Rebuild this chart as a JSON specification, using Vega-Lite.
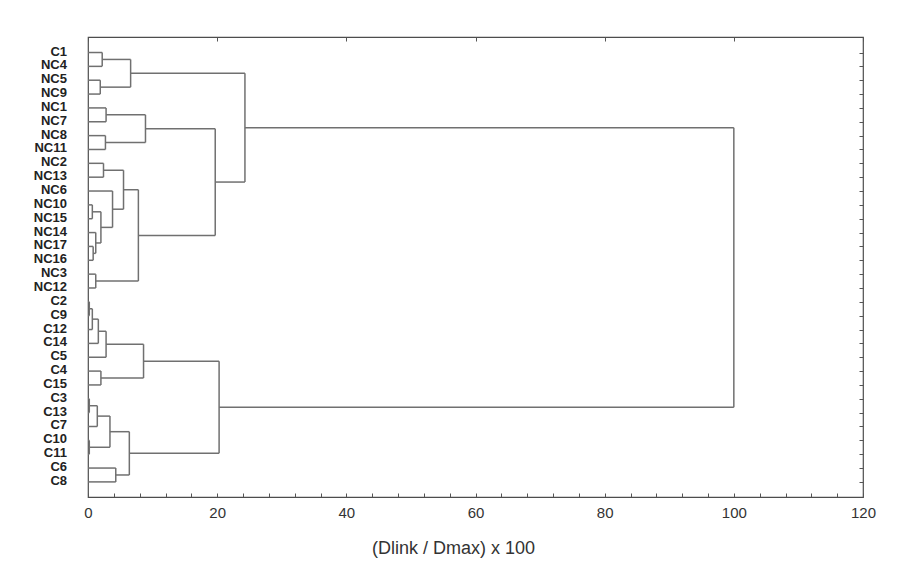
{
  "$schema": "https://vega.github.io/schema/vega-lite/v6.json",
  "width": 775,
  "height": 460,
  "autosize": {"type": "none"},
  "padding": {"left": 88, "top": 37, "right": 46, "bottom": 78},
  "background": "white",
  "config": {"view": {"stroke": "#4d4d4d", "strokeWidth": 1.2}, "axis": {"grid": false}},
  "layer": [
    {
      "data": {"values": [
        {"x1": 0, "x2": 2.2, "y1": 0, "y2": 0}, {"x1": 0, "x2": 2.2, "y1": 1, "y2": 1}, {"x1": 2.2, "x2": 2.2, "y1": 0, "y2": 1},
        {"x1": 0, "x2": 1.9, "y1": 2, "y2": 2}, {"x1": 0, "x2": 1.9, "y1": 3, "y2": 3}, {"x1": 1.9, "x2": 1.9, "y1": 2, "y2": 3},
        {"x1": 2.2, "x2": 6.6, "y1": 0.5, "y2": 0.5}, {"x1": 1.9, "x2": 6.6, "y1": 2.5, "y2": 2.5}, {"x1": 6.6, "x2": 6.6, "y1": 0.5, "y2": 2.5},
        {"x1": 0, "x2": 2.8, "y1": 4, "y2": 4}, {"x1": 0, "x2": 2.8, "y1": 5, "y2": 5}, {"x1": 2.8, "x2": 2.8, "y1": 4, "y2": 5},
        {"x1": 0, "x2": 2.7, "y1": 6, "y2": 6}, {"x1": 0, "x2": 2.7, "y1": 7, "y2": 7}, {"x1": 2.7, "x2": 2.7, "y1": 6, "y2": 7},
        {"x1": 2.8, "x2": 8.9, "y1": 4.5, "y2": 4.5}, {"x1": 2.7, "x2": 8.9, "y1": 6.5, "y2": 6.5}, {"x1": 8.9, "x2": 8.9, "y1": 4.5, "y2": 6.5},
        {"x1": 0, "x2": 2.4, "y1": 8, "y2": 8}, {"x1": 0, "x2": 2.4, "y1": 9, "y2": 9}, {"x1": 2.4, "x2": 2.4, "y1": 8, "y2": 9},
        {"x1": 0, "x2": 0.67, "y1": 11, "y2": 11}, {"x1": 0, "x2": 0.67, "y1": 12, "y2": 12}, {"x1": 0.67, "x2": 0.67, "y1": 11, "y2": 12},
        {"x1": 0, "x2": 0.8, "y1": 14, "y2": 14}, {"x1": 0, "x2": 0.8, "y1": 15, "y2": 15}, {"x1": 0.8, "x2": 0.8, "y1": 14, "y2": 15},
        {"x1": 0, "x2": 1.2, "y1": 13, "y2": 13}, {"x1": 0.8, "x2": 1.2, "y1": 14.5, "y2": 14.5}, {"x1": 1.2, "x2": 1.2, "y1": 13, "y2": 14.5},
        {"x1": 0.67, "x2": 2.0, "y1": 11.5, "y2": 11.5}, {"x1": 1.2, "x2": 2.0, "y1": 13.75, "y2": 13.75}, {"x1": 2.0, "x2": 2.0, "y1": 11.5, "y2": 13.75},
        {"x1": 0, "x2": 3.8, "y1": 10, "y2": 10}, {"x1": 2.0, "x2": 3.8, "y1": 12.625, "y2": 12.625}, {"x1": 3.8, "x2": 3.8, "y1": 10, "y2": 12.625},
        {"x1": 2.4, "x2": 5.5, "y1": 8.5, "y2": 8.5}, {"x1": 3.8, "x2": 5.5, "y1": 11.3125, "y2": 11.3125}, {"x1": 5.5, "x2": 5.5, "y1": 8.5, "y2": 11.3125},
        {"x1": 0, "x2": 1.2, "y1": 16, "y2": 16}, {"x1": 0, "x2": 1.2, "y1": 17, "y2": 17}, {"x1": 1.2, "x2": 1.2, "y1": 16, "y2": 17},
        {"x1": 5.5, "x2": 7.8, "y1": 9.906, "y2": 9.906}, {"x1": 1.2, "x2": 7.8, "y1": 16.5, "y2": 16.5}, {"x1": 7.8, "x2": 7.8, "y1": 9.906, "y2": 16.5},
        {"x1": 8.9, "x2": 19.7, "y1": 5.5, "y2": 5.5}, {"x1": 7.8, "x2": 19.7, "y1": 13.203, "y2": 13.203}, {"x1": 19.7, "x2": 19.7, "y1": 5.5, "y2": 13.203},
        {"x1": 6.6, "x2": 24.3, "y1": 1.5, "y2": 1.5}, {"x1": 19.7, "x2": 24.3, "y1": 9.352, "y2": 9.352}, {"x1": 24.3, "x2": 24.3, "y1": 1.5, "y2": 9.352},
        {"x1": 0, "x2": 0.2, "y1": 18, "y2": 18}, {"x1": 0, "x2": 0.2, "y1": 19, "y2": 19}, {"x1": 0.2, "x2": 0.2, "y1": 18, "y2": 19},
        {"x1": 0.2, "x2": 0.67, "y1": 18.5, "y2": 18.5}, {"x1": 0, "x2": 0.67, "y1": 20, "y2": 20}, {"x1": 0.67, "x2": 0.67, "y1": 18.5, "y2": 20},
        {"x1": 0.67, "x2": 1.6, "y1": 19.25, "y2": 19.25}, {"x1": 0, "x2": 1.6, "y1": 21, "y2": 21}, {"x1": 1.6, "x2": 1.6, "y1": 19.25, "y2": 21},
        {"x1": 1.6, "x2": 2.8, "y1": 20.125, "y2": 20.125}, {"x1": 0, "x2": 2.8, "y1": 22, "y2": 22}, {"x1": 2.8, "x2": 2.8, "y1": 20.125, "y2": 22},
        {"x1": 0, "x2": 2.0, "y1": 23, "y2": 23}, {"x1": 0, "x2": 2.0, "y1": 24, "y2": 24}, {"x1": 2.0, "x2": 2.0, "y1": 23, "y2": 24},
        {"x1": 2.8, "x2": 8.6, "y1": 21.063, "y2": 21.063}, {"x1": 2.0, "x2": 8.6, "y1": 23.5, "y2": 23.5}, {"x1": 8.6, "x2": 8.6, "y1": 21.063, "y2": 23.5},
        {"x1": 0, "x2": 0.2, "y1": 25, "y2": 25}, {"x1": 0, "x2": 0.2, "y1": 26, "y2": 26}, {"x1": 0.2, "x2": 0.2, "y1": 25, "y2": 26},
        {"x1": 0.2, "x2": 1.44, "y1": 25.5, "y2": 25.5}, {"x1": 0, "x2": 1.44, "y1": 27, "y2": 27}, {"x1": 1.44, "x2": 1.44, "y1": 25.5, "y2": 27},
        {"x1": 0, "x2": 0.2, "y1": 28, "y2": 28}, {"x1": 0, "x2": 0.2, "y1": 29, "y2": 29}, {"x1": 0.2, "x2": 0.2, "y1": 28, "y2": 29},
        {"x1": 1.44, "x2": 3.4, "y1": 26.25, "y2": 26.25}, {"x1": 0.2, "x2": 3.4, "y1": 28.5, "y2": 28.5}, {"x1": 3.4, "x2": 3.4, "y1": 26.25, "y2": 28.5},
        {"x1": 0, "x2": 4.3, "y1": 30, "y2": 30}, {"x1": 0, "x2": 4.3, "y1": 31, "y2": 31}, {"x1": 4.3, "x2": 4.3, "y1": 30, "y2": 31},
        {"x1": 3.4, "x2": 6.4, "y1": 27.375, "y2": 27.375}, {"x1": 4.3, "x2": 6.4, "y1": 30.5, "y2": 30.5}, {"x1": 6.4, "x2": 6.4, "y1": 27.375, "y2": 30.5},
        {"x1": 8.6, "x2": 20.3, "y1": 22.281, "y2": 22.281}, {"x1": 6.4, "x2": 20.3, "y1": 28.938, "y2": 28.938}, {"x1": 20.3, "x2": 20.3, "y1": 22.281, "y2": 28.938},
        {"x1": 24.3, "x2": 100, "y1": 5.426, "y2": 5.426}, {"x1": 20.3, "x2": 100, "y1": 25.609, "y2": 25.609}, {"x1": 100, "x2": 100, "y1": 5.426, "y2": 25.609}
      ]},
      "mark": {"type": "rule", "color": "#707070", "strokeWidth": 1.5},
      "encoding": {
        "x": {
          "field": "x1", "type": "quantitative",
          "scale": {"domain": [0, 120], "nice": false, "zero": false},
          "axis": {
            "orient": "bottom",
            "values": [0, 4, 8, 12, 16, 20, 24, 28, 32, 36, 40, 44, 48, 52, 56, 60, 64, 68, 72, 76, 80, 84, 88, 92, 96, 100, 104, 108, 112, 116, 120],
            "labelExpr": "datum.value % 20 === 0 ? datum.label : ''",
            "labelOverlap": false,
            "labelFlush": false,
            "tickSize": -4,
            "tickColor": "#555555",
            "domain": false,
            "labelFont": "Liberation Sans",
            "labelFontSize": 15,
            "labelColor": "#333333",
            "labelPadding": 12,
            "title": "(Dlink / Dmax) x 100",
            "titleFont": "Liberation Sans",
            "titleFontSize": 18,
            "titleFontWeight": "normal",
            "titleColor": "#333333",
            "titleAlign": "center",
            "titleBaseline": "middle",
            "titleX": 365,
            "titleY": 51
          }
        },
        "x2": {"field": "x2"},
        "y": {
          "field": "y1", "type": "quantitative",
          "scale": {"domain": [-1.12, 32.09], "reverse": true, "nice": false, "zero": false},
          "axis": {
            "orient": "right",
            "values": [0, 1, 2, 3, 4, 5, 6, 7, 8, 9, 10, 11, 12, 13, 14, 15, 16, 17, 18, 19, 20, 21, 22, 23, 24, 25, 26, 27, 28, 29, 30, 31],
            "labels": false,
            "tickSize": -4,
            "tickColor": "#555555",
            "domain": false,
            "title": null
          }
        },
        "y2": {"field": "y2"}
      }
    },
    {
      "data": {"values": [
        {"name": "C1", "pos": 0}, {"name": "NC4", "pos": 1}, {"name": "NC5", "pos": 2}, {"name": "NC9", "pos": 3},
        {"name": "NC1", "pos": 4}, {"name": "NC7", "pos": 5}, {"name": "NC8", "pos": 6}, {"name": "NC11", "pos": 7},
        {"name": "NC2", "pos": 8}, {"name": "NC13", "pos": 9}, {"name": "NC6", "pos": 10}, {"name": "NC10", "pos": 11},
        {"name": "NC15", "pos": 12}, {"name": "NC14", "pos": 13}, {"name": "NC17", "pos": 14}, {"name": "NC16", "pos": 15},
        {"name": "NC3", "pos": 16}, {"name": "NC12", "pos": 17}, {"name": "C2", "pos": 18}, {"name": "C9", "pos": 19},
        {"name": "C12", "pos": 20}, {"name": "C14", "pos": 21}, {"name": "C5", "pos": 22}, {"name": "C4", "pos": 23},
        {"name": "C15", "pos": 24}, {"name": "C3", "pos": 25}, {"name": "C13", "pos": 26}, {"name": "C7", "pos": 27},
        {"name": "C10", "pos": 28}, {"name": "C11", "pos": 29}, {"name": "C6", "pos": 30}, {"name": "C8", "pos": 31}
      ]},
      "mark": {"type": "text", "align": "right", "baseline": "middle", "dx": -21, "dy": -1, "font": "Liberation Sans", "fontSize": 13, "fontWeight": "bold", "color": "#222222"},
      "encoding": {
        "x": {
          "datum": 0, "type": "quantitative",
          "axis": {
            "orient": "top",
            "values": [0, 20, 40, 60, 80, 100, 120],
            "labels": false,
            "tickSize": -4,
            "tickColor": "#555555",
            "domain": false,
            "title": null
          }
        },
        "y": {"field": "pos", "type": "quantitative", "axis": null},
        "text": {"field": "name"}
      }
    }
  ],
  "resolve": {"axis": {"x": "independent", "y": "independent"}}
}
